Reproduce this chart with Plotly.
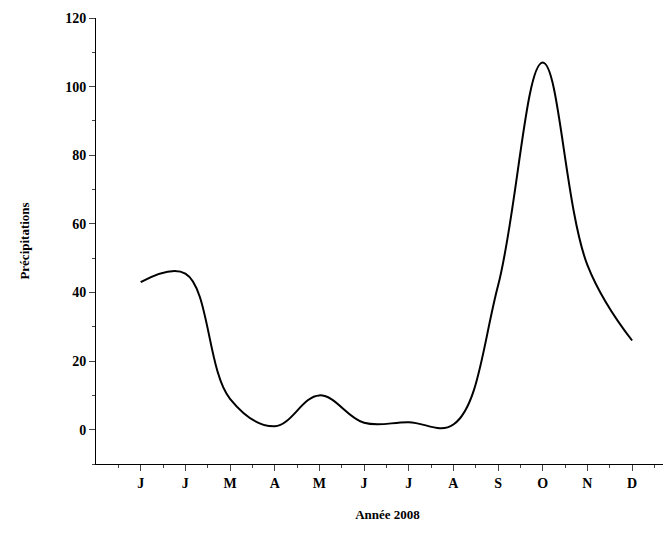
import plotly.graph_objects as go

months = ["J", "J", "M", "A", "M", "J", "J", "A", "S", "O", "N", "D"]
month_pos = list(range(1, 13))
precip = [43, 45.5, 9, 1, 10, 2, 2.2, 1.5, 42, 107, 48, 26]

fig = go.Figure()
fig.add_trace(go.Scatter(x=month_pos, y=precip, mode="lines",
                         line=dict(shape="spline", smoothing=1.1, color="black", width=2)))

tf = dict(family="Liberation Serif", size=14, color="black", weight="bold")
fig.update_layout(
    width=671, height=538,
    margin=dict(l=88, r=0, t=10, b=82),
    plot_bgcolor="white", paper_bgcolor="white",
    showlegend=False,
    font=dict(family="Liberation Serif", size=14, color="black"),
    xaxis=dict(range=[0, 13.05], tickvals=month_pos, ticktext=months,
               showgrid=False, zeroline=False, showline=True, linecolor="black",
               ticks="outside", ticklen=6, tickfont=tf,
               minor=dict(tickvals=[x + 0.5 for x in range(0, 13)], ticks="outside", ticklen=3),
               title=dict(text="<b>Année 2008</b>", font=dict(family="Liberation Serif", size=13), standoff=20)),
    yaxis=dict(range=[-10, 120], tickvals=[0, 20, 40, 60, 80, 100, 120],
               showgrid=False, zeroline=False, showline=True, linecolor="black",
               ticks="outside", ticklen=6, tickfont=tf,
               minor=dict(dtick=10, ticks="outside", ticklen=3),
               title=dict(text="<b>Précipitations</b>", font=dict(family="Liberation Serif", size=13), standoff=32)),
)
fig.write_html("out.html")
